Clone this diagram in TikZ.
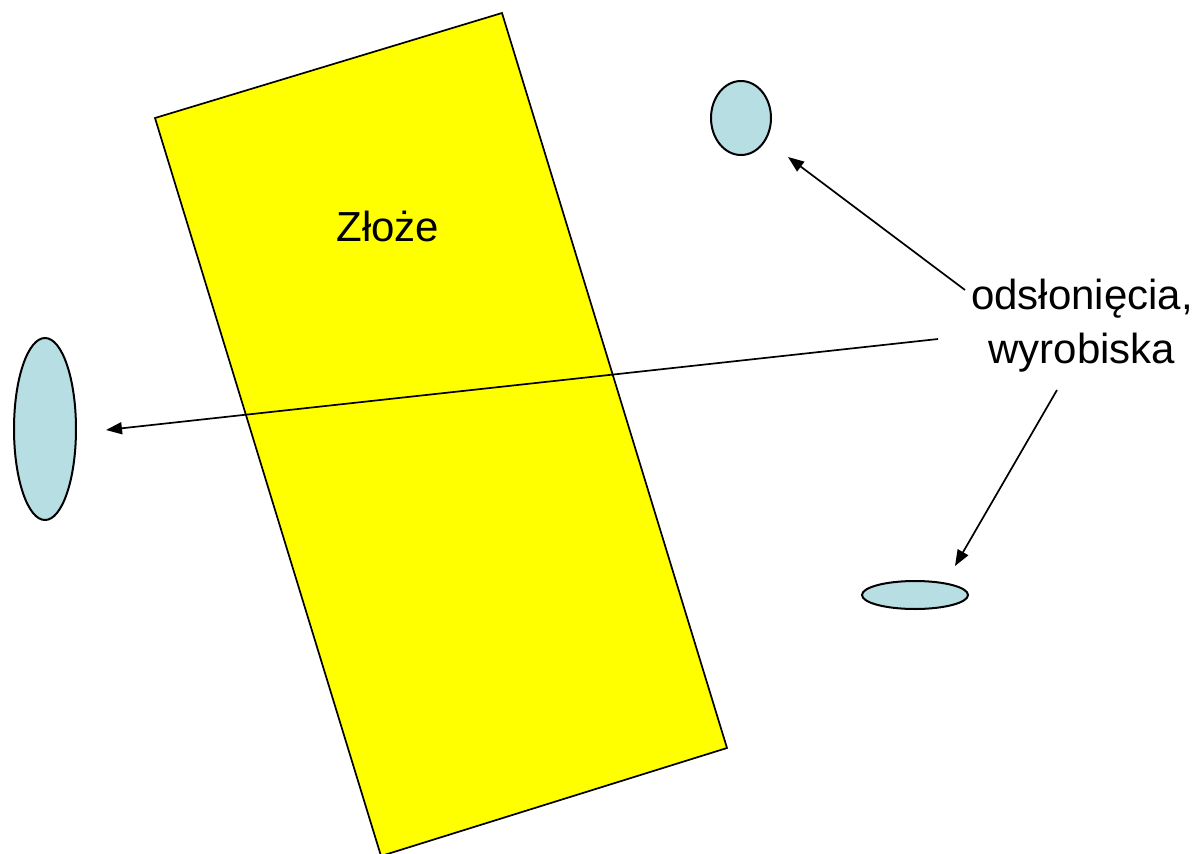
\documentclass[tikz,border=0pt]{standalone}
\usepackage{fontspec}
\setmainfont{Liberation Sans}
\usetikzlibrary{shapes.geometric,arrows.meta}
\definecolor{aqua}{RGB}{183,222,226}
\definecolor{deposit}{RGB}{255,255,0}
\tikzset{
  hole/.style={ellipse, draw=black, line width=2pt, fill=aqua, inner sep=0pt},
  pointer/.style={draw=black, line width=1.7pt, -{Triangle[length=16pt,width=12pt]}},
  lbl/.style={font=\fontsize{42}{54}\selectfont, text=black}
}
\begin{document}
\begin{tikzpicture}[x=1pt,y=-1pt]
\useasboundingbox (0,0) rectangle (1203,854);
\fill[white] (0,0) rectangle (1203,854);
% deposit
\draw[fill=deposit, line width=1.7pt, line join=miter] (155,118) -- (502,13) -- (727,748) -- (381,856) -- cycle;
\node[lbl] (zloze) at (388,226) {Złoże};
% exposures
\node[hole, minimum width=60pt, minimum height=74pt] (e1) at (741,118) {};
\node[hole, minimum width=62pt, minimum height=182pt] (e2) at (45,429) {};
\node[hole, minimum width=106pt, minimum height=28pt] (e3) at (915,595) {};
% label
\node[lbl, align=center] (lab) at (1082,326) {odsłonięcia,\\wyrobiska};
\coordinate (s1) at (965,290);
\coordinate (s2) at (938,339);
\coordinate (s3) at (1057,390);
\coordinate (t1) at (788,157);
\coordinate (t2) at (106,430);
\coordinate (t3) at (955,566);
\draw[pointer] (s1) -- (t1);
\draw[pointer] (s2) -- (t2);
\draw[pointer] (s3) -- (t3);
\end{tikzpicture}
\end{document}
